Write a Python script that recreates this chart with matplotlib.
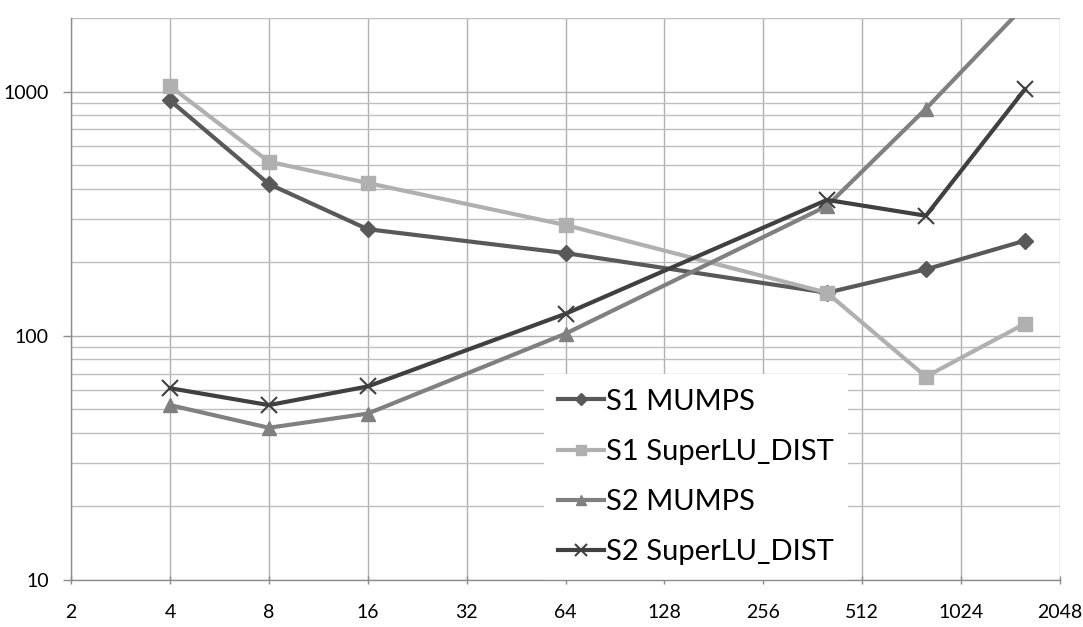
import matplotlib

matplotlib.use("Agg")
import matplotlib.pyplot as plt
from matplotlib.ticker import FixedLocator, LogLocator, NullFormatter

# values
procs = [4, 8, 16, 64, 400, 800, 1600]
s1_mumps = [920, 418, 273, 218, 150, 187, 245]
s1_superlu = [1053, 516, 422, 284, 150, 68, 112]
s2_mumps = [52, 42, 48, 102, 340, 850, 2250]
s2_superlu = [61, 52, 62, 123, 360, 310, 1020]

x_ticks = [2, 4, 8, 16, 32, 64, 128, 256, 512, 1024, 2048]
y_ticks = [10, 100, 1000]

series = [
    ("S1 MUMPS", s1_mumps, "#595959", "D", 8),
    ("S1 SuperLU_DIST", s1_superlu, "#b0b0b0", "s", 10),
    ("S2 MUMPS", s2_mumps, "#808080", "^", 10),
    ("S2 SuperLU_DIST", s2_superlu, "#404040", "x", 12),
]

plt.rcParams["font.family"] = ["Lato", "DejaVu Sans"]

fig = plt.figure(figsize=(10.83, 6.27), dpi=100)
ax = fig.add_axes([0.0656, 0.075, 0.9132, 0.8963])

for label, values, color, marker, size in series:
    ax.plot(procs, values, color=color, lw=3, marker=marker, markersize=size,
            markeredgewidth=1.5 if marker == "x" else 1, markeredgecolor=color,
            label=label, zorder=3)

ax.set_xscale("log", base=2)
ax.set_yscale("log")
ax.set_xlim(2, 2048)
ax.set_ylim(10, 2000)

ax.xaxis.set_major_locator(FixedLocator(x_ticks))
ax.set_xticklabels([str(t) for t in x_ticks])
ax.xaxis.set_minor_locator(FixedLocator([]))
ax.yaxis.set_major_locator(FixedLocator(y_ticks))
ax.set_yticklabels([str(t) for t in y_ticks])
ax.yaxis.set_minor_locator(LogLocator(base=10, subs=range(2, 10)))
ax.yaxis.set_minor_formatter(NullFormatter())

ax.grid(True, which="major", color="#b0b0b0", lw=1, zorder=0)
ax.grid(True, which="minor", axis="y", color="#bfbfbf", lw=1, zorder=0)

for side in ["top", "right"]:
    ax.spines[side].set_visible(False)
for side in ["left", "bottom"]:
    ax.spines[side].set_color("#8c8c8c")
    ax.spines[side].set_linewidth(1)

ax.tick_params(axis="both", which="major", labelsize=14, color="#8c8c8c",
               length=6, width=1, pad=10)
ax.tick_params(axis="x", direction="inout", pad=14)
ax.tick_params(axis="y", which="minor", length=0)

leg = ax.legend(loc="upper left", bbox_to_anchor=(0.478, 0.3665), fontsize=21,
                frameon=True, fancybox=False, edgecolor="none", framealpha=1,
                handlelength=1.55, handletextpad=0.08, labelspacing=0.83,
                borderpad=0.5, borderaxespad=0, markerscale=0.75)
# keep the bottom axis line visible under the legend box
leg.set_zorder(2.4)

fig.savefig("out.png", dpi=100)
